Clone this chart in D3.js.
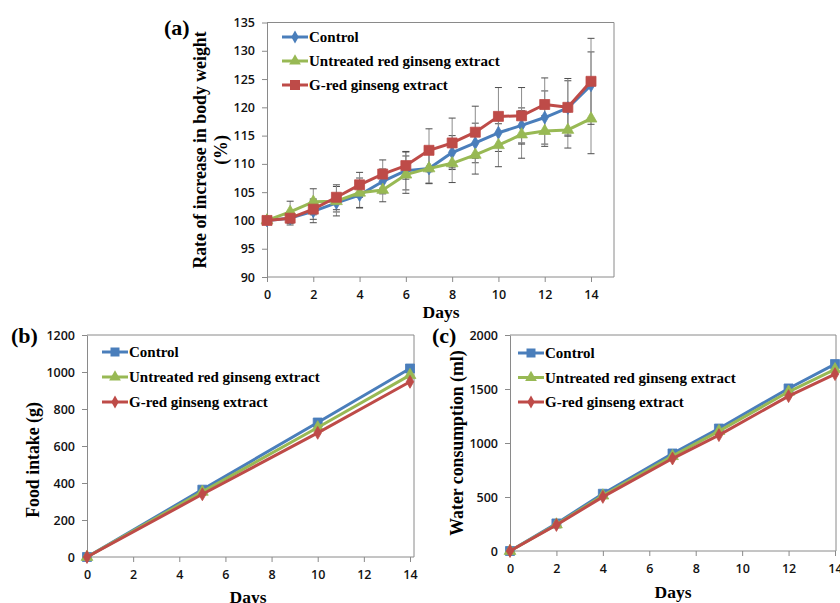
<!DOCTYPE html>
<html>
<head>
<meta charset="utf-8">
<script src="https://cdn.jsdelivr.net/npm/d3@7"></script>
<style>
  html, body { margin: 0; padding: 0; background: #fff; }
  svg { display: block; }
  .tick text { font-family: "Open Sans", "Noto Sans", sans-serif; font-size: 12.5px; font-weight: 600; fill: #111; }
  .serif { font-family: "Liberation Serif", "Times New Roman", serif; font-weight: bold; fill: #000; }
</style>
</head>
<body>
<svg id="chart" width="840" height="603"></svg>
<script>
// ---------------- DATA ----------------
const seriesNames = ["Control", "Untreated red ginseng extract", "G-red ginseng extract"];

// Panel (a): rate of increase in body weight (%)
const daysA = [0, 1, 2, 3, 4, 5, 6, 7, 8, 9, 10, 11, 12, 13, 14];
const weightControl   = [100, 100.4, 101.6, 103.1, 104.5, 106.9, 108.8, 109.2, 112.0, 113.7, 115.5, 116.8, 118.2, 119.9, 123.9];
const weightUntreated = [100, 101.5, 103.3, 103.4, 104.9, 105.4, 108.1, 109.2, 110.1, 111.6, 113.3, 115.2, 115.8, 116.0, 118.0];
const weightGred      = [100, 100.4, 102.0, 104.1, 106.3, 108.2, 109.7, 112.4, 113.7, 115.6, 118.4, 118.5, 120.5, 120.0, 124.6];
const sdControl   = [0, 1.2, 2.0, 1.6, 2.3, 2.2, 3.4, 2.6, 3.0, 3.5, 3.3, 3.1, 4.7, 4.8, 5.9];
const sdUntreated = [0, 1.9, 2.3, 2.6, 2.6, 2.1, 3.3, 2.7, 3.4, 3.4, 3.8, 4.2, 2.7, 3.2, 6.2];
const sdGred      = [0, 0.9, 1.8, 2.2, 2.2, 2.5, 2.4, 3.8, 4.4, 4.6, 5.1, 5.0, 4.7, 5.1, 7.6];
const ticksA_y = [90, 95, 100, 105, 110, 115, 120, 125, 130, 135];

// Panel (b): food intake (g)
const daysB = [0, 5, 10, 14];
const foodControl   = [0, 364, 727, 1019];
const foodUntreated = [0, 352, 700, 983];
const foodGred      = [0, 339, 671, 947];
const ticksB_y = [0, 200, 400, 600, 800, 1000, 1200];

// Panel (c): water consumption (ml)
const daysC = [0, 2, 4, 7, 9, 12, 14];
const waterControl   = [0, 255, 530, 903, 1134, 1505, 1731];
const waterUntreated = [0, 245, 513, 878, 1110, 1474, 1682];
const waterGred      = [0, 241, 501, 856, 1073, 1434, 1638];
const ticksC_y = [0, 500, 1000, 1500, 2000];

const ticksX = [0, 2, 4, 6, 8, 10, 12, 14];

// ---------------- STYLE ----------------
const BLUE = "#4A7EBB", GREEN = "#98B954", RED = "#BE4B48";
const AXIS = "#8a8a8a";

const svg = d3.select("#chart");

function markerPath(shape, size) {
  if (shape === "square") return d3.symbol(d3.symbolSquare, size * size)();
  if (shape === "triangle") return d3.symbol(d3.symbolTriangle, size * size * 0.6)();
  return d3.symbol(d3.symbolDiamond, size * size * 0.75)();
}

function panel(cfg) {
  const g = svg.append("g");
  const x = d3.scaleLinear().domain([0, 14]).range([cfg.x0, cfg.x1]);
  const y = d3.scaleLinear().domain(cfg.yDomain).range([cfg.yb, cfg.yt]);

  // plot frame (top/right)
  g.append("path")
    .attr("d", `M${cfg.x0},${cfg.yt}H${cfg.xr}V${cfg.yb}`)
    .attr("fill", "none").attr("stroke", AXIS).attr("stroke-width", 1);

  // y axis
  const ya = g.append("g").attr("transform", `translate(${cfg.x0},0)`)
    .call(d3.axisLeft(y).tickValues(cfg.yTicks).tickFormat(d3.format("d"))
      .tickSize(5).tickPadding(cfg.yPad).tickSizeOuter(0));
  ya.select(".domain").attr("stroke", AXIS);
  ya.selectAll(".tick line").attr("stroke", AXIS);

  // x axis
  const xa = g.append("g").attr("transform", `translate(0,${cfg.yb})`)
    .call(d3.axisBottom(x).tickValues(ticksX).tickFormat(d3.format("d"))
      .tickSize(5).tickPadding(8).tickSizeOuter(0));
  xa.select(".domain").attr("stroke", AXIS).attr("d", `M${cfg.x0},0H${cfg.xr}`);
  xa.selectAll(".tick line").attr("stroke", AXIS);

  // error bars
  cfg.series.forEach(s => {
    if (!s.sd) return;
    const eb = g.append("g").attr("stroke", "#4d4d4d").attr("stroke-width", 1);
    s.days.forEach((d, i) => {
      const sd = s.sd[i];
      if (!sd) return;
      const cx = x(d), yt = y(s.values[i] + sd), ybm = y(s.values[i] - sd);
      eb.append("line").attr("x1", cx).attr("x2", cx).attr("y1", yt).attr("y2", ybm).attr("stroke", "#8c8c8c");
      eb.append("line").attr("x1", cx - 3.5).attr("x2", cx + 3.5).attr("y1", yt).attr("y2", yt);
      eb.append("line").attr("x1", cx - 3.5).attr("x2", cx + 3.5).attr("y1", ybm).attr("y2", ybm);
    });
  });

  // lines & markers
  const line = d3.line().x(d => x(d[0])).y(d => y(d[1]));
  cfg.series.forEach(s => {
    const pts = s.days.map((d, i) => [d, s.values[i]]);
    g.append("path").datum(pts).attr("d", line)
      .attr("fill", "none").attr("stroke", s.color).attr("stroke-width", 3).attr("stroke-linejoin", "round");
    g.selectAll(null).data(pts).enter().append("path")
      .attr("d", markerPath(s.shape, s.size))
      .attr("transform", d => `translate(${x(d[0])},${y(d[1])})`)
      .attr("fill", s.color).attr("stroke", s.color).attr("stroke-width", 0.8);
  });

  // legend
  cfg.series.forEach((s, i) => {
    const ly = cfg.legY + i * cfg.legStep;
    g.append("line").attr("x1", cfg.legX).attr("x2", cfg.legX + 26).attr("y1", ly).attr("y2", ly)
      .attr("stroke", s.color).attr("stroke-width", 3);
    g.append("path").attr("d", markerPath(s.shape, s.size))
      .attr("transform", `translate(${cfg.legX + 13},${ly})`).attr("fill", s.color);
    g.append("text").attr("class", "serif").attr("x", cfg.legX + 27).attr("y", ly)
      .attr("dy", "0.35em").style("font-size", "15px").text(s.name);
  });

  // axis titles
  g.append("text").attr("class", "serif").attr("x", cfg.xTitleX).attr("y", cfg.xTitleY)
    .attr("text-anchor", "middle").style("font-size", "17.5px").text("Days");
  cfg.yTitle.forEach((t, i) => {
    g.append("text").attr("class", "serif")
      .attr("transform", `translate(${cfg.yTitleX + i * 21},${cfg.yTitleY}) rotate(-90)`)
      .attr("text-anchor", "middle").style("font-size", "17.8px").text(t);
  });
  g.append("text").attr("class", "serif").attr("x", cfg.labX).attr("y", cfg.labY)
    .style("font-size", "22px").text(cfg.label);
}

panel({
  x0: 267, x1: 591, xr: 614, yt: 22.5, yb: 277, yDomain: [90, 135], yTicks: ticksA_y, yPad: 7,
  series: [
    { name: seriesNames[0], days: daysA, values: weightControl, sd: sdControl, color: BLUE, shape: "diamond", size: 8 },
    { name: seriesNames[1], days: daysA, values: weightUntreated, sd: sdUntreated, color: GREEN, shape: "triangle", size: 10 },
    { name: seriesNames[2], days: daysA, values: weightGred, sd: sdGred, color: RED, shape: "square", size: 10 }
  ],
  legX: 282, legY: 37, legStep: 24,
  xTitleX: 441, xTitleY: 318,
  yTitle: ["Rate of increase in body weight", "(%)"], yTitleX: 206, yTitleY: 150,
  label: "(a)", labX: 164, labY: 35
});

panel({
  x0: 87, x1: 410, xr: 414, yt: 335, yb: 557, yDomain: [0, 1200], yTicks: ticksB_y, yPad: 7,
  series: [
    { name: seriesNames[0], days: daysB, values: foodControl, color: BLUE, shape: "square", size: 9 },
    { name: seriesNames[1], days: daysB, values: foodUntreated, color: GREEN, shape: "triangle", size: 10 },
    { name: seriesNames[2], days: daysB, values: foodGred, color: RED, shape: "diamond", size: 8 }
  ],
  legX: 102, legY: 352, legStep: 25,
  xTitleX: 248, xTitleY: 603,
  yTitle: ["Food intake (g)"], yTitleX: 39, yTitleY: 460,
  label: "(b)", labX: 11, labY: 343
});

panel({
  x0: 510, x1: 835, xr: 836, yt: 335, yb: 551, yDomain: [0, 2000], yTicks: ticksC_y, yPad: 7,
  series: [
    { name: seriesNames[0], days: daysC, values: waterControl, color: BLUE, shape: "square", size: 9 },
    { name: seriesNames[1], days: daysC, values: waterUntreated, color: GREEN, shape: "triangle", size: 10 },
    { name: seriesNames[2], days: daysC, values: waterGred, color: RED, shape: "diamond", size: 8 }
  ],
  legX: 518, legY: 353, legStep: 24.5,
  xTitleX: 673, xTitleY: 598,
  yTitle: ["Water consumption (ml)"], yTitleX: 463, yTitleY: 443,
  label: "(c)", labX: 432, labY: 343
});
</script>
</body>
</html>
